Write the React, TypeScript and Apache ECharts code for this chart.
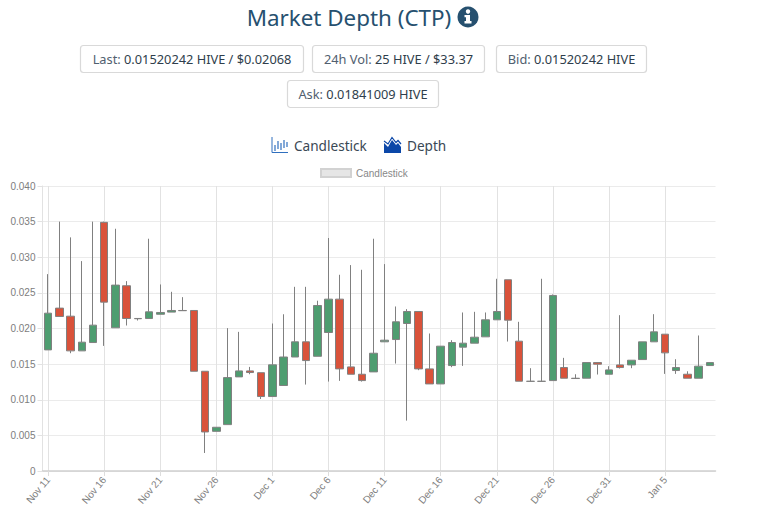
import React, { useEffect, useRef } from "react";
import * as echarts from "echarts";

const dates = [
  "Nov 11","Nov 12","Nov 13","Nov 14","Nov 15","Nov 16","Nov 17","Nov 18","Nov 19","Nov 20",
  "Nov 21","Nov 22","Nov 23","Nov 24","Nov 25","Nov 26","Nov 27","Nov 28","Nov 29","Nov 30",
  "Dec 1","Dec 2","Dec 3","Dec 4","Dec 5","Dec 6","Dec 7","Dec 8","Dec 9","Dec 10",
  "Dec 11","Dec 12","Dec 13","Dec 14","Dec 15","Dec 16","Dec 17","Dec 18","Dec 19","Dec 20",
  "Dec 21","Dec 22","Dec 23","Dec 24","Dec 25","Dec 26","Dec 27","Dec 28","Dec 29","Dec 30",
  "Dec 31","Jan 1","Jan 2","Jan 3","Jan 4","Jan 5","Jan 6","Jan 7","Jan 8","Jan 9",
];
const opens = [
  .0170,.02286,.02173,.01686,.01803,.0349,.0201,.0260,.02141,.0214,
  .0220,.0223,.02253,.02253,.0140,.00557,.00651,.01321,.01405,.0138,
  .01045,.0120,.0160,.01813,.0161,.01944,.02412,.01461,.01358,.01391,
  .01813,.01845,.0207,.02239,.01433,.01222,.0148,.01738,.01794,.01883,
  .02122,.02684,.01822,.0126,.0126,.01269,.01452,.01302,.01302,.01522,
  .01358,.01489,.01489,.01564,.01813,.0192,.0141,.01358,.01302,.0148,
];
const closes = [
  .02215,.02169,.01686,.01808,.02047,.0237,.02609,.0214,.02137,.02234,
  .02225,.02253,.0225,.0140,.00548,.00614,.01311,.01405,.01382,.01045,
  .0149,.0160,.01813,.0155,.02323,.02412,.01433,.01358,.01269,.01653,
  .01836,.02094,.02239,.01433,.01222,.01752,.01803,.01794,.01878,.02122,
  .02239,.02117,.0126,.01258,.01258,.02464,.01302,.01298,.01522,.01499,
  .01419,.01452,.01555,.01813,.01953,.01658,.01452,.01302,.01471,.01522,
];
const lows = [
  .0170,.02169,.01653,.01686,.01803,.01756,.0201,.02042,.02112,.0214,
  .0220,.0223,.0225,.0140,.00253,.00557,.00651,.01321,.01358,.0101,
  .01045,.0120,.0160,.01213,.0161,.01255,.01265,.01358,.01255,.01391,
  .01813,.01508,.00707,.01415,.01222,.01222,.01457,.01475,.01794,.01883,
  .02122,.01817,.0126,.01258,.01258,.01269,.01302,.01298,.01302,.01354,
  .01358,.01438,.01443,.01564,.01813,.01363,.01363,.01302,.01302,.0148,
];
const highs = [
  .02763,.0350,.03279,.02946,.0350,.0350,.0340,.02665,.02141,.0326,
  .02618,.02515,.0244,.02253,.0140,.00614,.02005,.01953,.01461,.0138,
  .0207,.0220,.02585,.02585,.0239,.0327,.02754,.0289,.02824,.0326,
  .02904,.02309,.02272,.02239,.0193,.01752,.01836,.02225,.02234,.02225,
  .02698,.02684,.02094,.01443,.02698,.02478,.01588,.01358,.01522,.01522,
  .01471,.02187,.01555,.01813,.02201,.0192,.01569,.0140,.01902,.01522,
];
const yTickLabels = ["0", "0.005", "0.010", "0.015", "0.020", "0.025", "0.030", "0.035", "0.040"];
const title = "Market Depth (CTP)";
const stats = [
  { label: "Last:", value: "0.01520242 HIVE / $0.02068", x: 80, y: 45, w: 223 },
  { label: "24h Vol:", value: "25 HIVE / $33.37", x: 312, y: 45, w: 172 },
  { label: "Bid:", value: "0.01520242 HIVE", x: 496, y: 45, w: 150 },
  { label: "Ask:", value: "0.01841009 HIVE", x: 287, y: 80, w: 151 },
];

const FONT = "'Noto Sans', sans-serif";
const AXIS_FONT = "'Liberation Sans', Arial, sans-serif";
const STAT_FONT = `12.8px ${FONT}`;

const statButton = (s: (typeof stats)[number]) => ({
  type: "group",
  children: [
    {
      type: "rect",
      shape: { x: s.x + 0.5, y: s.y + 0.5, width: s.w, height: 27, r: 3 },
      style: { fill: "#fff", stroke: "#d9d9d9", lineWidth: 1.2 },
    },
    {
      type: "text",
      x: s.x + s.w / 2 + 0.5,
      y: s.y + 14,
      style: {
        text: `{a|${s.label}} {b|${s.value}}`,
        align: "center",
        verticalAlign: "middle",
        font: STAT_FONT,
        rich: {
          a: { fill: "#51606f", font: STAT_FONT },
          b: { fill: "#2f3e4c", font: STAT_FONT },
        },
      },
    },
  ],
});

const candleIconBars = [
  [275, 145, 151], [278, 141, 149], [281, 143, 150], [284, 140, 148], [287, 142, 147],
];

const App = () => {
  const ref = useRef<HTMLDivElement>(null);
  useEffect(() => {
    const chart = echarts.init(ref.current!, undefined, { renderer: "svg" });
    const blue = "#2f6fbe";
    chart.setOption({
      animation: false,
      backgroundColor: "#fff",
      legend: {
        top: 163,
        left: 315,
        itemWidth: 30,
        itemHeight: 8,
        itemGap: 5,
        data: [{
          name: "Candlestick",
          icon: "rect",
          itemStyle: { color: "#e6e6e6", borderColor: "#d2d2d2", borderWidth: 2 },
        }],
        textStyle: { color: "#888", fontSize: 10, fontFamily: AXIS_FONT, padding: [0, 0, 0, 0] },
        selectedMode: false,
      },
      grid: { left: 42.5, right: 52.5, top: 186, bottom: 47 },
      xAxis: {
        type: "category",
        data: dates,
        boundaryGap: true,
        axisLine: { onZero: false, lineStyle: { color: "#cfcfcf", width: 1.5 } },
        axisTick: { show: true, interval: 4, alignWithLabel: true, length: 5, lineStyle: { color: "#ddd" } },
        splitLine: { show: true, interval: 4, alignWithLabel: true, lineStyle: { color: "#e2e2e2", width: 1 } },
        axisLabel: {
          interval: 4,
          rotate: 50,
          color: "#7d7d7d",
          fontSize: 10,
          fontFamily: AXIS_FONT,
          margin: 7,
        },
      },
      yAxis: {
        type: "value",
        min: 0,
        max: 0.04,
        interval: 0.005,
        axisLine: { show: true, lineStyle: { color: "#e2e2e2" } },
        axisTick: { show: true, length: 5, lineStyle: { color: "#e2e2e2" } },
        splitLine: { show: true, lineStyle: { color: "#ebebeb", width: 1 } },
        axisLabel: {
          color: "#7d7d7d",
          fontSize: 10,
          fontFamily: AXIS_FONT,
          margin: 7,
          formatter: (_: number, i: number) => yTickLabels[i],
        },
      },
      series: [{
        name: "Candlestick",
        type: "candlestick",
        barWidth: 8,
        data: dates.map((_, i) => [opens[i], closes[i], lows[i], highs[i]]),
        itemStyle: {
          color: "#4e9d70",
          color0: "#d9523a",
          borderColor: "#808080",
          borderColor0: "#808080",
          borderColorDoji: "#808080",
          borderWidth: 1,
        },
      }],
      graphic: { elements: [
        {
          type: "text", x: 349, y: 17,
          style: { text: title, align: "center", verticalAlign: "middle", font: `22.4px ${FONT}`, fill: "#26506f" },
        },
        { type: "circle", shape: { cx: 468, cy: 17, r: 10.5 }, style: { fill: "#26506f" } },
        { type: "circle", shape: { cx: 468, cy: 11.5, r: 2.2 }, style: { fill: "#fff" } },
        { type: "polygon", shape: { points: [[464.5, 15], [470, 15], [470, 21], [471.5, 21], [471.5, 23.5], [464.5, 23.5], [464.5, 21], [466, 21], [466, 17.3], [464.5, 17.3]] }, style: { fill: "#fff" } },
        ...stats.map(statButton),
        { type: "polyline", shape: { points: [[272, 137], [272, 152.5], [288, 152.5]] }, style: { stroke: blue, lineWidth: 1, fill: "none" } },
        ...candleIconBars.map(([x, a, b]) => ({
          type: "line", shape: { x1: x, y1: a, x2: x, y2: b }, style: { stroke: blue, lineWidth: 1.2 },
        })),
        {
          type: "text", x: 294, y: 145,
          style: { text: "Candlestick", verticalAlign: "middle", font: `13.6px ${FONT}`, fill: "#3a4855" },
        },
        {
          type: "polygon",
          shape: { points: [[384, 153], [384, 143], [388, 147], [392, 140], [396, 145], [398, 143], [401, 147], [401, 153]] },
          style: { fill: "#0b47a8" },
        },
        {
          type: "polyline",
          shape: { points: [[384, 141], [388, 144], [392, 137.5], [396, 142.5], [398, 140.5], [401, 144]] },
          style: { stroke: "#0b47a8", lineWidth: 1.2, fill: "none" },
        },
        {
          type: "text", x: 407, y: 145,
          style: { text: "Depth", verticalAlign: "middle", font: `13.6px ${FONT}`, fill: "#3a4855" },
        },
      ] },
    });
    return () => chart.dispose();
  }, []);
  return <div ref={ref} style={{ position: "fixed", left: 0, top: 0, width: 768, height: 518, background: "#fff" }} />;
};

export default App;
